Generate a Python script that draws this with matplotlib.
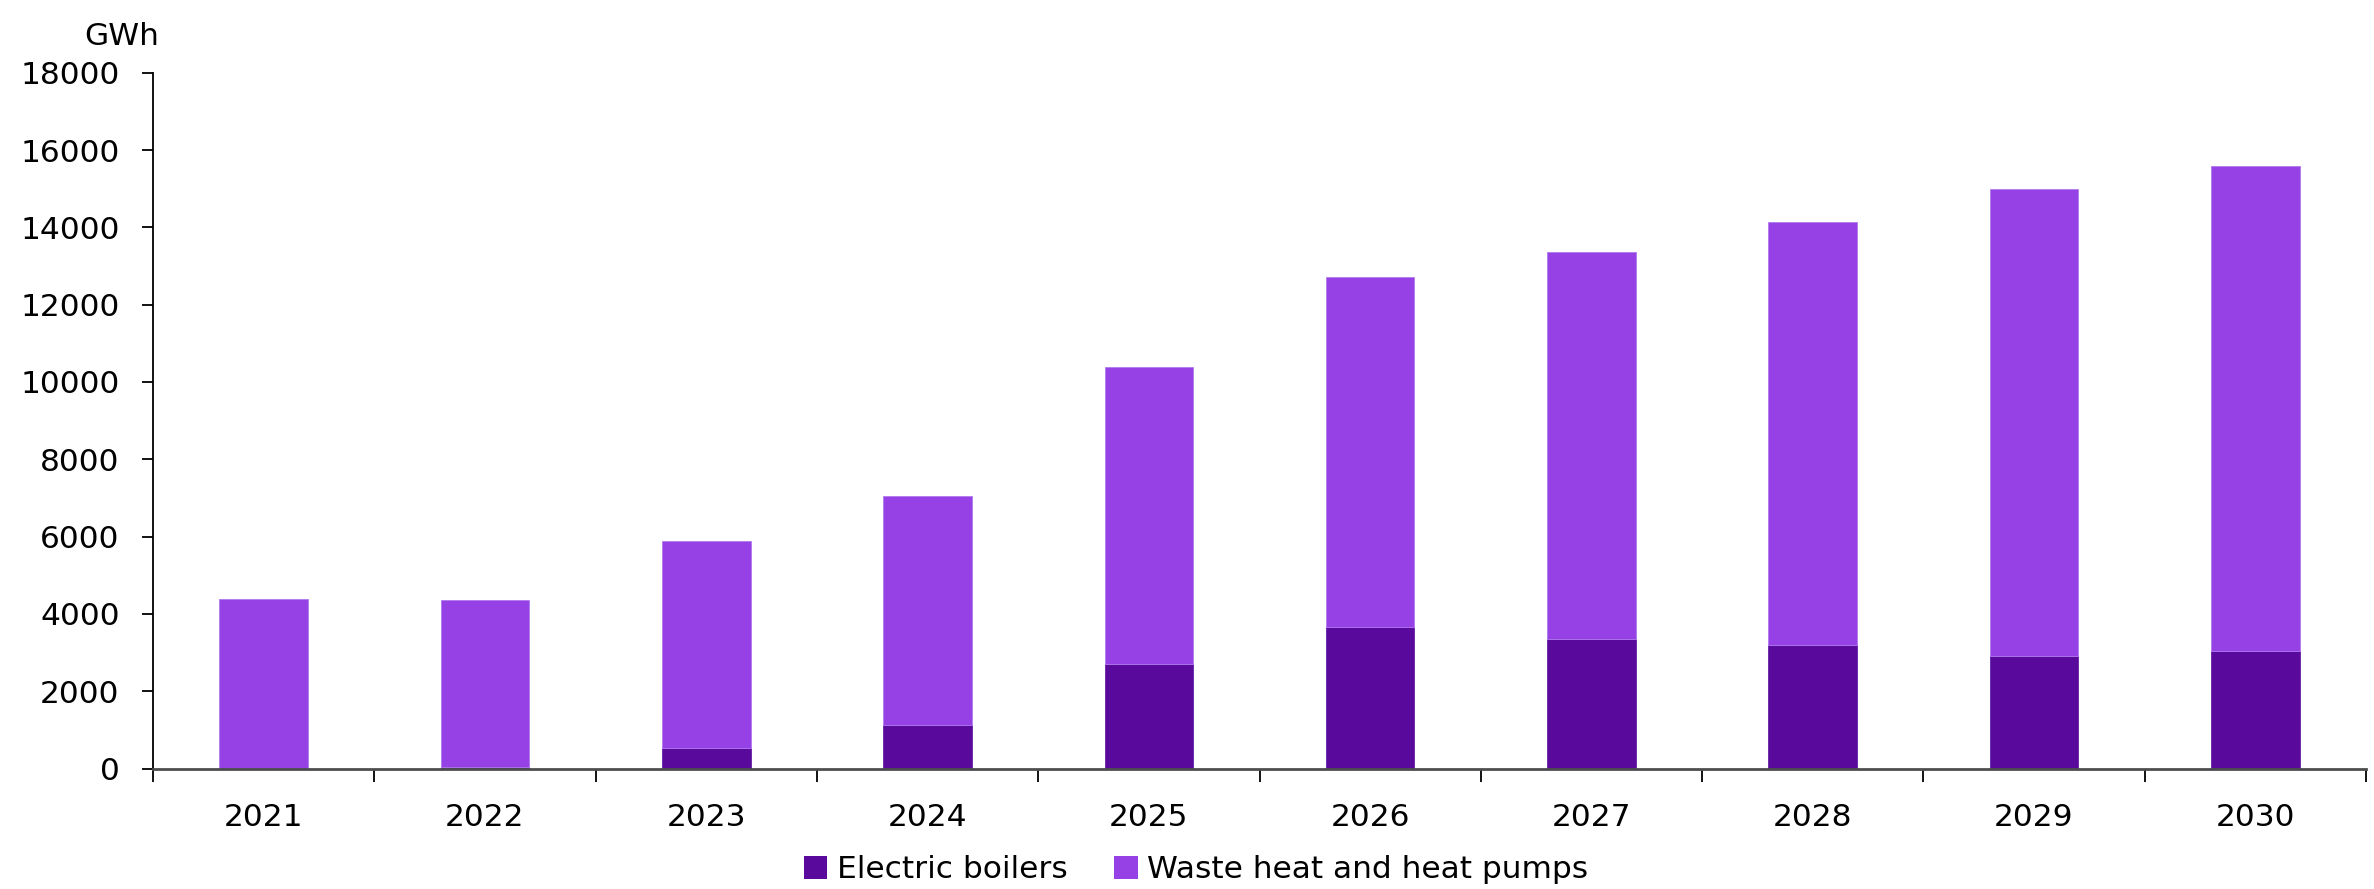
import matplotlib
matplotlib.use("Agg")
import matplotlib.pyplot as plt
import numpy as np
from matplotlib.patches import Patch

plt.rcParams['font.family'] = ['DejaVu Sans']

years = ["2021", "2022", "2023", "2024", "2025", "2026", "2027", "2028", "2029", "2030"]
electric_boilers = [0, 50, 540, 1135, 2695, 3660, 3360, 3185, 2900, 3050]
waste_heat_pumps = [4390, 4310, 5340, 5915, 7685, 9050, 9995, 10945, 12085, 12545]
series_labels = ["Electric boilers", "Waste heat and heat pumps"]
y_ticks = [0, 2000, 4000, 6000, 8000, 10000, 12000, 14000, 16000, 18000]

dark_purple = "#590A9C"
light_purple = "#9641E6"
FS = 22.5

W, H = 2374, 889
fig = plt.figure(figsize=(W / 100, H / 100), dpi=100)
ax = fig.add_axes([153 / W, (H - 768.5) / H, (2366 - 153) / W, (768.5 - 72.7) / H])

x = np.arange(len(years))
ax.bar(x, electric_boilers, width=0.4, color=dark_purple, edgecolor=dark_purple, linewidth=0.5)
ax.bar(x, waste_heat_pumps, width=0.4, bottom=electric_boilers, color=light_purple,
       edgecolor="#B27BEE", linewidth=0.6)

ax.set_xlim(-0.5, len(years) - 0.5)
ax.set_ylim(0, 18000)
ax.set_yticks(y_ticks)
ax.set_yticklabels([str(v) for v in y_ticks])

ax.set_xticks(x)
ax.set_xticklabels(years)
ax.set_xticks(np.arange(-0.5, len(years)), minor=True)
ax.tick_params(axis='x', which='major', length=0, pad=25, labelsize=FS)
ax.tick_params(axis='x', which='minor', length=9, width=1.3, direction='out', color='black')
ax.tick_params(axis='y', which='major', length=8, width=1.3, pad=16, labelsize=FS, color='black')

for side in ('top', 'right'):
    ax.spines[side].set_visible(False)
ax.spines['left'].set_color('black')
ax.spines['left'].set_linewidth(1.3)
ax.spines['bottom'].set_color('#4d4d4d')
ax.spines['bottom'].set_linewidth(2.0)

fig.text(122 / W, (H - 45) / H, "GWh", ha='center', va='baseline', fontsize=FS)

handles = [Patch(facecolor=dark_purple, edgecolor='none'),
           Patch(facecolor=light_purple, edgecolor='none')]
fig.legend(handles, series_labels, loc='center', bbox_to_anchor=(1196 / W, (H - 870) / H),
           ncol=2, frameon=False, fontsize=FS, handlelength=0.75, handleheight=0.75,
           handletextpad=0.3, columnspacing=1.5, borderaxespad=0)

fig.savefig("out.png", dpi=100, facecolor='white')
